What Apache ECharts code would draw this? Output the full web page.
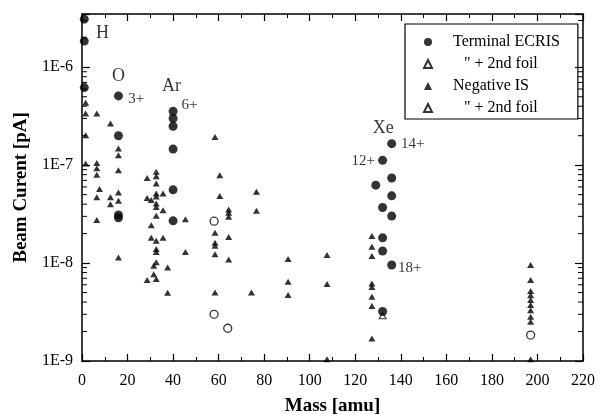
<!DOCTYPE html>
<html><head><meta charset="utf-8">
<script src="https://cdn.jsdelivr.net/npm/echarts@6/dist/echarts.min.js"></script>
<style>html,body{margin:0;padding:0;background:#fff}#c{width:610px;height:415px}</style>
</head><body><div id="c"></div>
<script>
// ---- data ----
const seriesNames = ['Terminal ECRIS', '" + 2nd foil', 'Negative IS', '" + 2nd foil '];

const ecrisMass    = [1, 1, 1, 16, 16, 16, 16, 40, 40, 40, 40, 40, 40,
                      136, 132, 136, 129, 136, 132, 136, 132, 132, 136, 132];
const ecrisCurrent = [3.1e-6, 1.85e-6, 6.2e-7, 5.1e-7, 2.0e-7, 3.1e-8, 2.9e-8,
                      3.55e-7, 3.0e-7, 2.5e-7, 1.46e-7, 5.6e-8, 2.7e-8,
                      1.66e-7, 1.12e-7, 7.4e-8, 6.25e-8, 4.86e-8, 3.7e-8, 3.02e-8, 1.81e-8, 1.33e-8, 9.55e-9, 3.2e-9];

const ecrisFoilMass    = [58, 58, 64, 197];
const ecrisFoilCurrent = [2.68e-8, 3.0e-9, 2.16e-9, 1.84e-9];

const negMass = [1.6, 1.6, 1.6, 1.6,
  6.5, 6.5, 6.5, 6.5, 6.5, 6.5, 7.7,
  12.5, 12.5, 12.5,
  16, 16, 16, 16, 16, 16,
  28.6, 28.6, 28.6,
  30.4, 30.4, 30.4, 31.5, 31.5,
  32.6, 32.6, 32.6, 32.6, 32.6, 32.6, 32.6, 32.6, 32.6, 32.6, 32.6, 32.6, 32.6,
  35.6, 35.6, 35.6, 37.6, 37.6,
  45.4, 45.4,
  58.4, 58.4, 58.4, 58.4, 58.4, 58.4,
  60.5, 60.5,
  64.4, 64.4, 64.4, 64.4, 64.4,
  74.4, 76.6, 76.6,
  90.5, 90.5, 90.5,
  107.6, 107.6, 107.6,
  127.3, 127.3, 127.3, 127.3, 127.3, 127.3, 127.3, 127.3,
  197, 197, 197, 197, 197, 197, 197, 197, 197, 197];
const negCurrent = [4.33e-7, 3.37e-7, 2.02e-7, 1.04e-7,
  3.37e-7, 1.05e-7, 9.3e-8, 8.0e-8, 4.7e-8, 2.75e-8, 5.7e-8,
  2.67e-7, 4.7e-8, 4.0e-8,
  1.48e-7, 1.26e-7, 8.9e-8, 5.26e-8, 4.33e-8, 1.14e-8,
  7.4e-8, 4.63e-8, 6.7e-9,
  4.4e-8, 2.44e-8, 1.81e-8, 9.4e-9, 7.7e-9,
  8.55e-8, 7.7e-8, 6.5e-8, 5.14e-8, 4.8e-8, 4.06e-8, 3.74e-8, 3.04e-8, 1.69e-8, 1.39e-8, 1.3e-8, 1.02e-8, 6.88e-9,
  5.14e-8, 3.47e-8, 1.81e-8, 9.0e-9, 4.98e-9,
  2.81e-8, 1.3e-8,
  1.94e-7, 2.04e-8, 1.61e-8, 1.5e-8, 1.23e-8, 5.0e-9,
  7.9e-8, 4.83e-8,
  3.53e-8, 3.26e-8, 2.98e-8, 1.85e-8, 1.09e-8,
  5.0e-9, 5.35e-8, 3.42e-8,
  1.1e-8, 6.44e-9, 4.71e-9,
  1.21e-8, 6.1e-9, 1.04e-9,
  1.89e-8, 1.47e-8, 1.18e-8, 6.2e-9, 5.7e-9, 4.53e-9, 3.64e-9, 1.7e-9,
  9.55e-9, 6.7e-9, 5.2e-9, 4.7e-9, 4.2e-9, 3.73e-9, 3.3e-9, 2.83e-9, 2.52e-9, 1.04e-9];

const negFoilMass    = [132];
const negFoilCurrent = [2.9e-9];

const annoText    = ['H', 'O', '3+', 'Ar', '6+', 'Xe', '14+', '12+', '18+'];
const annoMass    = [9.0, 16.0, 23.8, 39.3, 47.2, 132.3, 145.2, 123.5, 143.9];
const annoCurrent = [2.22e-6, 8.1e-7, 4.7e-7, 6.4e-7, 4.1e-7, 2.39e-7, 1.64e-7, 1.1e-7, 9.0e-9];
const annoBig     = [true, true, false, true, false, true, false, false, false];

const xMin = 0, xMax = 220, xStep = 20;
const yMin = 1e-9, yMax = 3.5e-6;

// ---- helpers ----
const pairs = (xs, ys) => xs.map((x, i) => [x, ys[i]]);
const yMinorTicks = [];
for (let d = -9; d <= -6; d++) for (let k = 2; k <= 9; k++) {
  const v = k * Math.pow(10, d);
  if (v < yMax) yMinorTicks.push(v);
}
const serif = 'Liberation Serif';
const black = '#000';
const fmtY = v => {
  const e = Math.log10(v);
  if (Math.abs(e - Math.round(e)) > 1e-6) return '';
  return '1E' + Math.round(e);
};

const chart = echarts.init(document.getElementById('c'), null, {renderer: 'canvas'});
const axisLine = {show: true, onZero: false, lineStyle: {color: black, width: 1.5}};
chart.setOption({
  animation: false,
  backgroundColor: '#fff',
  grid: {left: 82, right: 27, top: 14, bottom: 54, containLabel: false, outerBoundsMode: 'none'},
  legend: {
    orient: 'vertical', left: 405, top: 24,
    padding: [10, 18, 3, 18], itemWidth: 8, itemHeight: 8, itemGap: 6,
    borderColor: black, borderWidth: 1.2,
    textStyle: {fontFamily: serif, fontSize: 16, color: black, padding: [0, 0, 0, 16]},
    data: [
      {name: seriesNames[0], icon: 'circle'},
      {name: seriesNames[1], icon: 'triangle', textStyle: {padding: [0, 0, 0, 27]}},
      {name: seriesNames[2], icon: 'triangle'},
      {name: seriesNames[3], icon: 'triangle', textStyle: {padding: [0, 0, 0, 27]}}
    ],
    selectedMode: false
  },
  xAxis: [
    {type: 'value', min: xMin, max: xMax, interval: xStep, position: 'bottom',
     axisLine, axisTick: {inside: true, length: 7, lineStyle: {color: black, width: 1.2}},
     minorTick: {show: true, splitNumber: 2, length: 4, lineStyle: {color: black, width: 1}},
     splitLine: {show: false},
     axisLabel: {color: black, fontFamily: serif, fontSize: 16, margin: 12},
     name: 'Mass [amu]', nameLocation: 'middle', nameGap: 36,
     nameTextStyle: {fontFamily: serif, fontWeight: 'bold', fontSize: 19, color: black}},
    {type: 'value', min: xMin, max: xMax, interval: xStep, position: 'top',
     axisLine, axisTick: {inside: true, length: 7, lineStyle: {color: black, width: 1.2}},
     minorTick: {show: true, splitNumber: 2, length: 4, lineStyle: {color: black, width: 1}},
     splitLine: {show: false}, axisLabel: {show: false}}
  ],
  yAxis: [
    {type: 'log', logBase: 10, min: yMin, max: yMax, position: 'left',
     axisLine, axisTick: {inside: true, length: 8, lineStyle: {color: black, width: 1.2}},
     splitLine: {show: false},
     axisLabel: {color: black, fontFamily: serif, fontSize: 16, margin: 9, formatter: fmtY},
     name: 'Beam Curent [pA]', nameLocation: 'middle', nameGap: 49,
     nameTextStyle: {fontFamily: serif, fontWeight: 'bold', fontSize: 19, color: black}},
    {type: 'log', logBase: 10, min: yMin, max: yMax, position: 'right',
     axisLine, axisTick: {inside: true, length: 8, lineStyle: {color: black, width: 1.2}},
     splitLine: {show: false}, axisLabel: {show: false}}
  ],
  series: [
    {name: seriesNames[0], type: 'scatter', symbol: 'circle', symbolSize: 9,
     itemStyle: {color: black}, data: pairs(ecrisMass, ecrisCurrent), z: 5},
    {name: seriesNames[1], type: 'scatter', symbol: 'circle', symbolSize: 8,
     itemStyle: {color: '#fff', borderColor: black, borderWidth: 1.3}, data: pairs(ecrisFoilMass, ecrisFoilCurrent), z: 5},
    {name: seriesNames[2], type: 'scatter', symbol: 'triangle', symbolSize: [7, 6], clip: false,
     itemStyle: {color: black}, data: pairs(negMass, negCurrent), z: 4},
    {name: seriesNames[3], type: 'scatter', symbol: 'triangle', symbolSize: [7, 6],
     itemStyle: {color: '#fff', borderColor: black, borderWidth: 1}, data: pairs(negFoilMass, negFoilCurrent), z: 4},
    {type: 'scatter', silent: true, symbolSize: 0, z: 6,
     label: {show: true, position: 'inside', formatter: '{b}', color: black, fontFamily: serif},
     data: annoText.map((t, i) => ({name: t, value: [annoMass[i], annoCurrent[i]],
       label: {fontSize: annoBig[i] ? 18 : 15}}))},
    {type: 'custom', silent: true, z: 3, data: yMinorTicks.map(v => [xMin, v]),
     renderItem: (params, api) => {
       const v = api.value(1);
       const l = api.coord([xMin, v]);
       const r = api.coord([xMax, v]);
       return {type: 'group', children: [
         {type: 'line', shape: {x1: l[0], y1: l[1], x2: l[0] + 5, y2: l[1]}, style: {stroke: black, lineWidth: 1}},
         {type: 'line', shape: {x1: r[0], y1: r[1], x2: r[0] - 5, y2: r[1]}, style: {stroke: black, lineWidth: 1}}
       ]};
     }}
  ]
});
</script></body></html>
